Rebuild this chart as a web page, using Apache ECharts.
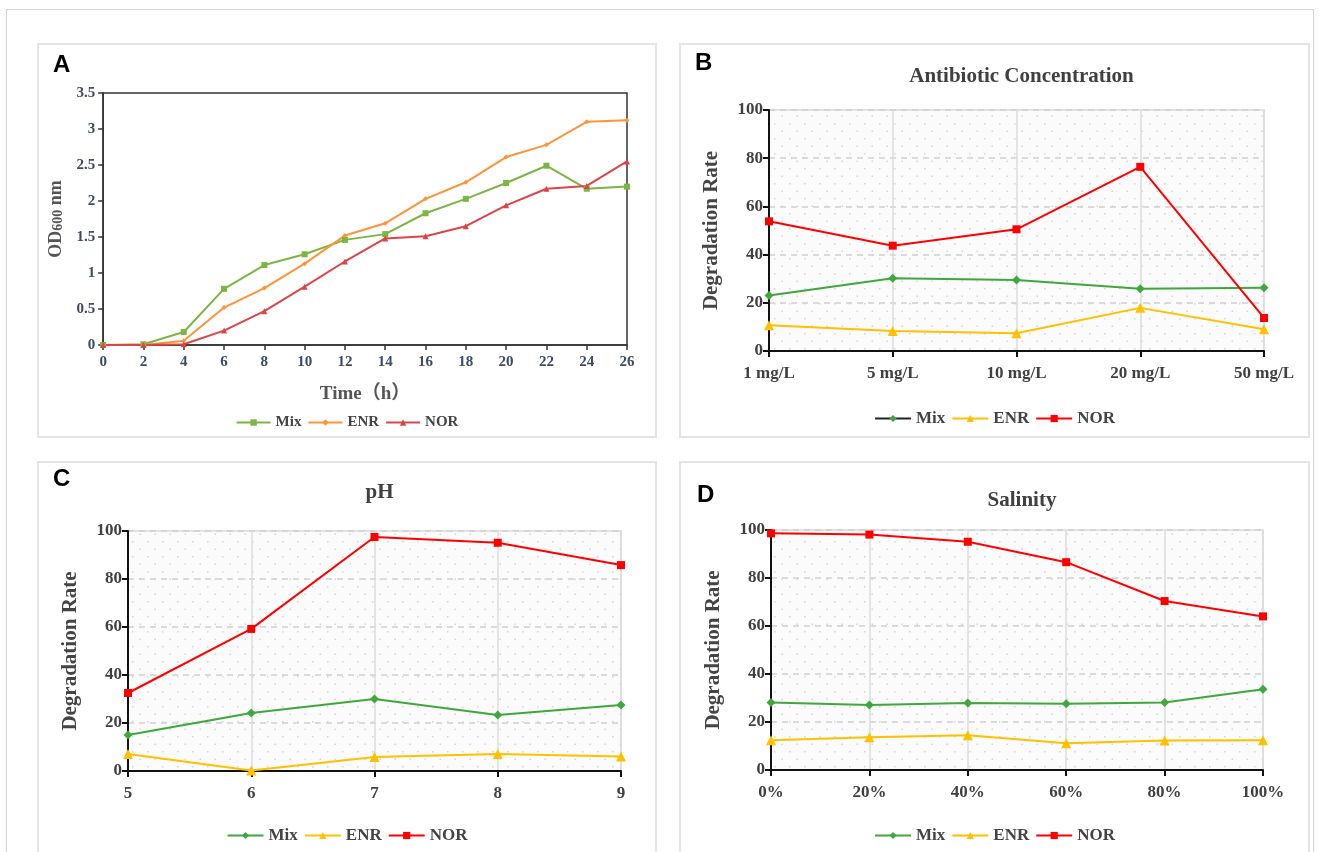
<!DOCTYPE html>
<html>
<head>
<meta charset="utf-8">
<script src="https://cdn.jsdelivr.net/npm/echarts@6/dist/echarts.min.js"></script>
<style>
    html, body { margin: 0; padding: 0; background: #fff; width: 1319px; height: 852px; overflow: hidden; }
    #frame { position: absolute; left: 6px; top: 9px; width: 1306px; height: 900px; border: 1px solid #d4d4d4; }
    .panel { position: absolute; border: 2px solid #e4e4e4; background: #fff; }
    #pa { left: 37px; top: 43px; width: 616px; height: 391px; }
    #pb { left: 679px; top: 43px; width: 627px; height: 391px; }
    #pc { left: 37px; top: 461px; width: 616px; height: 400px; }
    #pd { left: 679px; top: 461px; width: 627px; height: 400px; }
</style>
</head>
<body>
<div id="frame"></div>
<div class="panel" id="pa"></div>
<div class="panel" id="pb"></div>
<div class="panel" id="pc"></div>
<div class="panel" id="pd"></div>
<script>
// A: growth curve
var hoursA = [0, 2, 4, 6, 8, 10, 12, 14, 16, 18, 20, 22, 24, 26];
var mixA = [0, 0.01, 0.18, 0.78, 1.11, 1.26, 1.46, 1.54, 1.83, 2.03, 2.25, 2.49, 2.17, 2.20];
var enrA = [0, 0, 0.06, 0.52, 0.79, 1.13, 1.52, 1.69, 2.03, 2.26, 2.61, 2.78, 3.10, 3.12];
var norA = [0, 0, 0.01, 0.20, 0.47, 0.81, 1.16, 1.48, 1.51, 1.65, 1.94, 2.17, 2.21, 2.55];

// B: antibiotic concentration
var concCats = ['1 mg/L', '5 mg/L', '10 mg/L', '20 mg/L', '50 mg/L'];
var mixB = [23, 30.2, 29.5, 25.8, 26.2];
var enrB = [10.7, 8.3, 7.4, 17.9, 9.0];
var norB = [53.8, 43.7, 50.5, 76.4, 13.7];

// C: pH
var phCats = ['5', '6', '7', '8', '9'];
var mixC = [15, 24.2, 30, 23.3, 27.5];
var enrC = [7.1, 0.2, 5.8, 7.1, 6.0];
var norC = [32.5, 59.2, 97.5, 95.1, 85.8];

// D: salinity
var salCats = ['0%', '20%', '40%', '60%', '80%', '100%'];
var mixD = [28.1, 27.1, 27.9, 27.6, 28.1, 33.6];
var enrD = [12.4, 13.6, 14.5, 11.1, 12.3, 12.4];
var norD = [98.6, 98.1, 95.1, 86.6, 70.4, 64.0];

var serifFont = '"Liberation Serif", "Noto Sans CJK SC", serif';

function pairs(xs, ys) {
    var out = [];
    for (var i = 0; i < xs.length; i++) {
        out.push([xs[i], ys[i]]);
    }
    return out;
}

// dotted background for B-D
function dotPattern() {
    var c = document.createElement('canvas');
    c.width = 15;
    c.height = 15;
    var ctx = c.getContext('2d');
    ctx.fillStyle = '#fbfbfb';
    ctx.fillRect(0, 0, 15, 15);
    ctx.fillStyle = '#d6d6d6';
    ctx.fillRect(3, 3, 1.5, 1.5);
    ctx.fillRect(10.5, 10.5, 1.5, 1.5);
    return c;
}

var panelLabel = function(text, left, top) {
    return {
        text: text,
        left: left,
        top: top,
        textStyle: { fontFamily: '"Liberation Sans", Arial, sans-serif', fontWeight: 'bold', fontSize: 24, color: '#000' }
    };
};

// panel A
var chartA = echarts.init(document.getElementById('pa'));
var tickColA = '#3d4b60';
chartA.setOption({
    animation: false,
    title: [panelLabel('A', 9, 3)],
    grid: {
        left: 64, top: 48, width: 524, height: 252,
        show: true, borderColor: '#333', borderWidth: 1.5, backgroundColor: '#fff'
    },
    legend: {
        top: 365,
        left: 'center',
        itemWidth: 34,
        itemHeight: 8,
        itemGap: 6,
        textStyle: { fontFamily: serifFont, fontWeight: 'bold', fontSize: 15, color: '#444' },
        data: ['Mix', 'ENR', 'NOR']
    },
    xAxis: {
        type: 'value',
        min: 0, max: 26, interval: 2,
        name: 'Time（h）',
        nameLocation: 'middle',
        nameGap: 40,
        nameTextStyle: { fontFamily: serifFont, fontWeight: 'bold', fontSize: 19, color: '#555' },
        axisLine: { lineStyle: { color: '#333', width: 1.5 } },
        axisTick: { length: 5, lineStyle: { color: '#333', width: 1.5 } },
        axisLabel: { margin: 10, fontFamily: serifFont, fontWeight: 'bold', fontSize: 15, color: tickColA },
        splitLine: { show: false }
    },
    yAxis: {
        type: 'value',
        min: 0, max: 3.5, interval: 0.5,
        name: '{a|OD}{b|600}{a| nm}',
        nameLocation: 'middle',
        nameGap: 35,
        nameRotate: 90,
        nameTextStyle: {
            rich: {
                a: { fontFamily: serifFont, fontWeight: 'bold', fontSize: 18, color: '#555' },
                b: { fontFamily: serifFont, fontWeight: 'bold', fontSize: 14, color: '#555', verticalAlign: 'bottom', padding: [5, 0, 0, 0] }
            }
        },
        axisLine: { show: true, lineStyle: { color: '#333', width: 1.5 } },
        axisTick: { show: true, length: 5, lineStyle: { color: '#333', width: 1.5 } },
        axisLabel: { margin: 8, fontFamily: serifFont, fontWeight: 'bold', fontSize: 15, color: tickColA },
        splitLine: { show: false }
    },
    series: [
        {
            name: 'Mix', type: 'line', data: pairs(hoursA, mixA),
            symbol: 'rect', symbolSize: 6,
            itemStyle: { color: '#7bb542' }, lineStyle: { color: '#7bb542', width: 2 }
        },
        {
            name: 'ENR', type: 'line', data: pairs(hoursA, enrA),
            symbol: 'diamond', symbolSize: 5,
            itemStyle: { color: '#ff9436' }, lineStyle: { color: '#ff9436', width: 2 }
        },
        {
            name: 'NOR', type: 'line', data: pairs(hoursA, norA),
            symbol: 'triangle', symbolSize: 6,
            itemStyle: { color: '#dd4447' }, lineStyle: { color: '#dd4447', width: 2 }
        }
    ]
});

// panels B-D share one style
var func = function(){};
func.rate = function(el, label, labelPos, title, titleTop, cats, mix, enr, nor, grid, mixLegendLine) {
    var chart = echarts.init(document.getElementById(el));
    var legendMix = { name: 'Mix' };
    if (mixLegendLine) {
        legendMix.lineStyle = { color: mixLegendLine };
    }
    chart.setOption({
        animation: false,
        title: [
            panelLabel(label, labelPos[0], labelPos[1]),
            {
                text: title,
                left: grid.left + grid.width / 2,
                textAlign: 'center',
                top: titleTop,
                textStyle: { fontFamily: serifFont, fontWeight: 'bold', fontSize: 21, color: '#404040' }
            }
        ],
        grid: {
            left: grid.left, top: grid.top, width: grid.width, height: grid.height,
            show: true, borderWidth: 2, borderColor: '#e2e2e2',
            backgroundColor: { image: dotPattern(), repeat: 'repeat' }
        },
        legend: {
            top: grid.legendTop,
            left: 'center',
            itemWidth: 36,
            itemHeight: 9,
            itemGap: 6,
            textStyle: { fontFamily: serifFont, fontWeight: 'bold', fontSize: 17, color: '#444' },
            data: [legendMix, 'ENR', 'NOR']
        },
        xAxis: {
            type: 'category',
            data: cats,
            boundaryGap: false,
            axisLine: { lineStyle: { color: '#111', width: 2 } },
            axisTick: { alignWithLabel: true, length: 6, lineStyle: { color: '#111', width: 2 } },
            axisLabel: { margin: 14, fontFamily: serifFont, fontWeight: 'bold', fontSize: 17, color: '#404040' },
            splitLine: { show: true, lineStyle: { color: '#dcdcdc', width: 1.5 } }
        },
        yAxis: {
            type: 'value',
            min: 0, max: 100, interval: 20,
            name: 'Degradation Rate',
            nameLocation: 'middle',
            nameGap: 47,
            nameRotate: 90,
            nameTextStyle: { fontFamily: serifFont, fontWeight: 'bold', fontSize: 21, color: '#444' },
            axisLine: { show: true, lineStyle: { color: '#111', width: 2 } },
            axisTick: { show: true, length: 6, lineStyle: { color: '#111', width: 2 } },
            axisLabel: { margin: 6, fontFamily: serifFont, fontWeight: 'bold', fontSize: 17, color: '#404040' },
            splitLine: { show: true, lineStyle: { type: [6, 5], color: '#cfcfcf', width: 1.5 } }
        },
        series: [
            {
                name: 'Mix', type: 'line', data: mix,
                symbol: 'diamond', symbolSize: 9,
                itemStyle: { color: '#3ea83e' }, lineStyle: { color: '#3ea83e', width: 2 }
            },
            {
                name: 'ENR', type: 'line', data: enr,
                symbol: 'triangle', symbolSize: 10,
                itemStyle: { color: '#ffc000' }, lineStyle: { color: '#ffc000', width: 2 }
            },
            {
                name: 'NOR', type: 'line', data: nor,
                symbol: 'rect', symbolSize: 8,
                itemStyle: { color: '#ff0000' }, lineStyle: { color: '#ff0000', width: 2 }
            }
        ]
    });
    return chart;
};

func.rate('pb', 'B', [9, 1], 'Antibiotic Concentration', 16, concCats, mixB, enrB, norB,
    { left: 88, top: 65, width: 495, height: 241, legendTop: 360 }, '#222');
func.rate('pc', 'C', [9, -1], 'pH', 14, phCats, mixC, enrC, norC,
    { left: 89, top: 68, width: 493, height: 240, legendTop: 359 }, null);
func.rate('pd', 'D', [11, 15], 'Salinity', 22, salCats, mixD, enrD, norD,
    { left: 90, top: 67, width: 492, height: 240, legendTop: 359 }, null);
</script>
</body>
</html>
